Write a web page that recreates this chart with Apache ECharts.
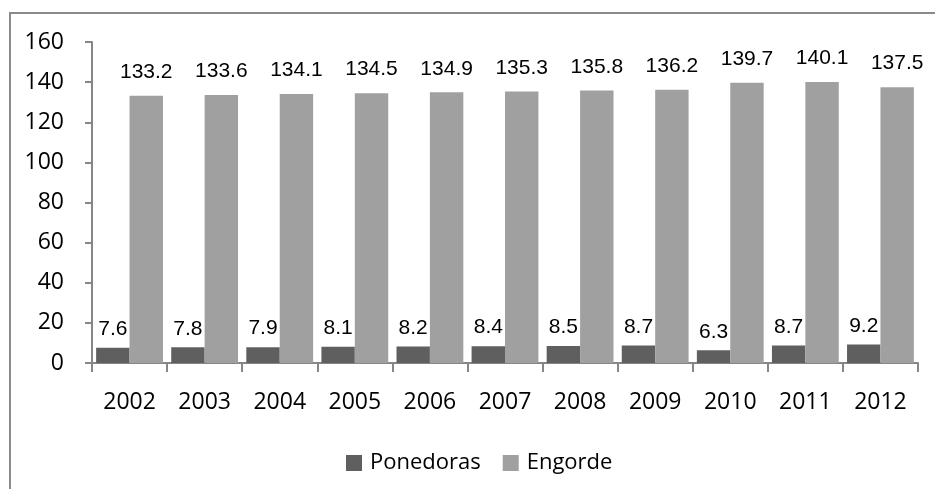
<!DOCTYPE html>
<html>
<head>
<meta charset="utf-8">
<script src="https://cdn.jsdelivr.net/npm/echarts@6/dist/echarts.min.js"></script>
<style>html,body{margin:0;padding:0;background:#fff}#c{width:935px;height:489px}</style>
</head>
<body>
<div id="c"></div>
<script>
const categories = ['2002','2003','2004','2005','2006','2007','2008','2009','2010','2011','2012'];
const ponedoras = [7.6, 7.8, 7.9, 8.1, 8.2, 8.4, 8.5, 8.7, 6.3, 8.7, 9.2];
const engorde = [133.2, 133.6, 134.1, 134.5, 134.9, 135.3, 135.8, 136.2, 139.7, 140.1, 137.5];

const chart = echarts.init(document.getElementById('c'));
const axisFont = 'Open Sans';
const labelFont = 'Liberation Sans';
chart.setOption({
  animation: false,
  backgroundColor: '#fff',
  graphic: [{
    type: 'rect',
    shape: { x: 10, y: 13, width: 1000, height: 1000 },
    style: { fill: 'none', stroke: '#8a8a8a', lineWidth: 2 },
    silent: true
  }],
  grid: { left: 92, right: 17, top: 42, bottom: 126 },
  legend: {
    left: 341, top: 447,
    itemWidth: 16, itemHeight: 16, itemGap: 22,
    icon: 'rect',
    textStyle: { fontFamily: axisFont, fontSize: 22, color: '#000', padding: [0,0,0,3] },
    data: ['Ponedoras', 'Engorde']
  },
  xAxis: {
    type: 'category',
    data: categories,
    axisLine: { lineStyle: { color: '#868686', width: 2 } },
    axisTick: { show: true, length: 9, lineStyle: { color: '#868686', width: 2 } },
    axisLabel: { fontFamily: axisFont, fontSize: 23, color: '#000', margin: 28 }
  },
  yAxis: {
    type: 'value', min: 0, max: 160, interval: 20,
    splitLine: { show: false },
    axisLine: { show: true, lineStyle: { color: '#868686', width: 2 } },
    axisTick: { show: true, length: 7, lineStyle: { color: '#868686', width: 2 } },
    axisLabel: { fontFamily: axisFont, fontSize: 23, color: '#000', margin: 28 }
  },
  series: [
    {
      name: 'Ponedoras', type: 'bar', data: ponedoras,
      itemStyle: { color: '#5f5f5f' },
      barGap: '0%', barCategoryGap: '11%',
      label: { show: true, position: 'top', distance: 8, fontFamily: labelFont, fontSize: 21, color: '#000' }
    },
    {
      name: 'Engorde', type: 'bar', data: engorde,
      itemStyle: { color: '#a0a0a0' },
      barGap: '0%', barCategoryGap: '11%',
      label: { show: true, position: 'top', distance: 13, fontFamily: labelFont, fontSize: 21, color: '#000' }
    }
  ]
});
</script>
</body>
</html>
